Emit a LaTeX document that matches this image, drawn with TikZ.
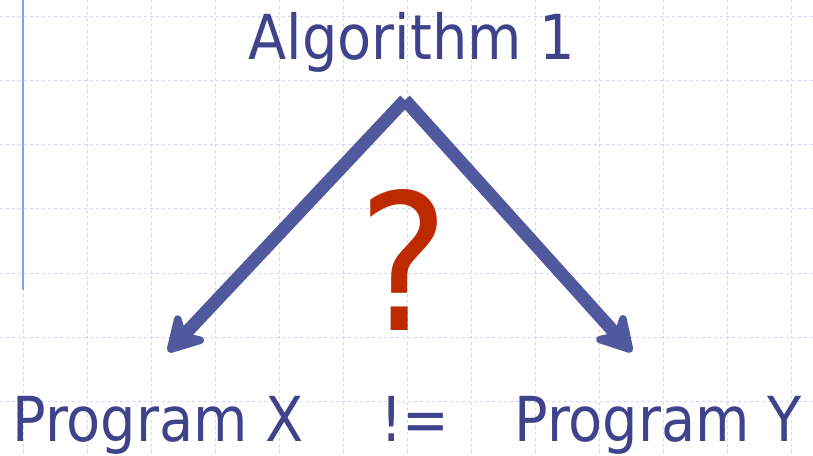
\documentclass[tikz,border=0pt]{standalone}
\usepackage{fontspec}
\setmainfont{DejaVu Sans Condensed}
\usetikzlibrary{arrows.meta}
\definecolor{inkblue}{RGB}{64,66,140}
\definecolor{arrowblue}{RGB}{80,88,158}
\definecolor{qred}{RGB}{190,42,0}
\definecolor{gridblue}{RGB}{205,212,255}
\definecolor{railblue}{RGB}{130,160,250}
\tikzset{
  gridline/.style={gridblue, line width=1pt, dash pattern=on 3pt off 3pt},
  label/.style={inkblue, anchor=base, inner sep=0pt, font=\fontsize{62}{66}\selectfont},
  branch/.style={arrowblue, line width=13pt,
    -{Stealth[length=44pt, width=50pt, inset=14pt, round]}}
}
\begin{document}
\begin{tikzpicture}[x=1pt, y=-1pt]
\useasboundingbox (0,0) rectangle (813,455);
% background grid
\foreach \gx in {23,87,...,791}
  \draw[gridline] (\gx,0) -- (\gx,455);
\foreach \gy in {16,80.3,...,403}
  \draw[gridline] (0,\gy) -- (813,\gy);
\draw[railblue, line width=2pt] (23,0) -- (23,290);
% labels
\node[label] (alg) at (412,59) {Algorithm 1};
\node[label] (px) at (158,441) {Program X};
\node[label] (neq) at (415,441) {!=};
\node[label] (py) at (658,441) {Program Y};
\node[qred, anchor=base, inner sep=0pt, font=\fontsize{190}{192}\selectfont] (q) at (404,330) {?};
% arrows
\coordinate (apex) at (405,100);
\coordinate (tipx) at (168,352);
\coordinate (tipy) at (632,352);
\draw[branch] (apex) -- (tipx);
\draw[branch] (apex) -- (tipy);
\end{tikzpicture}
\end{document}
